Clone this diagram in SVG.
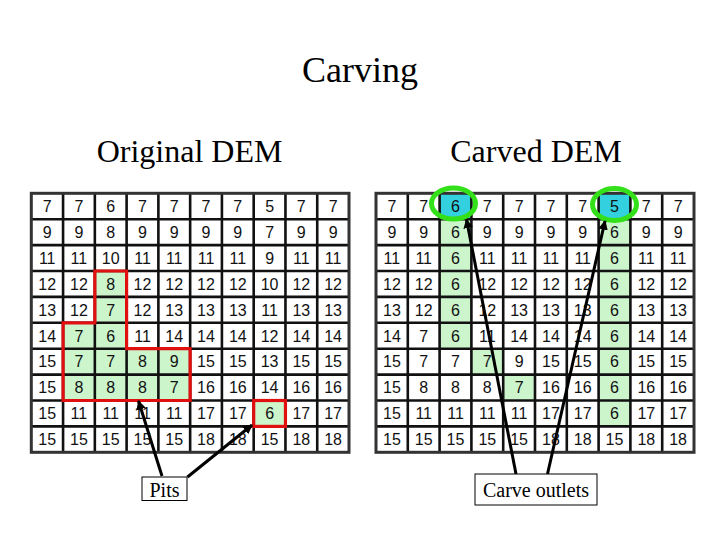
<svg xmlns="http://www.w3.org/2000/svg" width="720" height="540" viewBox="0 0 720 540">
<style>
.title{font-family:"Liberation Serif","Times New Roman",serif;fill:#000;text-anchor:middle}
.n{font-family:"Liberation Sans",Arial,sans-serif;font-size:16px;fill:#111;text-anchor:middle}
.grid{fill:none;stroke:#111;stroke-width:2.6}
.frame{fill:none;stroke:#333;stroke-width:3}
.green{fill:#ccf5cc}
.cyan{fill:#33d0e0}
.pit{fill:none;stroke:#e01010;stroke-width:3.2;stroke-linejoin:miter}
.outlet{fill:none;stroke:#33e01a;stroke-width:5}
.arrow{stroke:#000;stroke-width:3;fill:none;marker-end:url(#ah)}
.box{fill:#fff;stroke:#000;stroke-width:1}
.lbl{font-family:"Liberation Serif","Times New Roman",serif;font-size:20px;fill:#000;text-anchor:middle}
</style>
<defs>
<marker id="ah" viewBox="0 0 10 10" refX="9" refY="5" markerWidth="3.2" markerHeight="3.2" orient="auto" markerUnits="strokeWidth">
<path d="M0,0 L10,5 L0,10 z" fill="#000"/>
</marker>
</defs>
<rect width="720" height="540" fill="#fff"/>

<g id="titles">
<text class="title" x="360" y="82" font-size="36">Carving</text>
<text class="title" x="189.5" y="162" font-size="32">Original DEM</text>
<text class="title" x="536" y="162" font-size="32">Carved DEM</text>
</g>

<g id="original-dem">
<rect x="31.3" y="193.3" width="317.7" height="259" fill="#fff"/>
<rect class="green" x="94.84" y="271" width="31.77" height="51.8"/>
<rect class="green" x="63.07" y="322.8" width="63.54" height="25.9"/>
<rect class="green" x="63.07" y="348.7" width="127.08" height="51.8"/>
<rect class="green" x="253.69" y="400.5" width="31.77" height="25.9"/>
<path class="grid" d="M63.07,193.3V452.3M94.84,193.3V452.3M126.61,193.3V452.3M158.38,193.3V452.3M190.15,193.3V452.3M221.92,193.3V452.3M253.69,193.3V452.3M285.46,193.3V452.3M317.23,193.3V452.3M31.3,219.2H349M31.3,245.1H349M31.3,271H349M31.3,296.9H349M31.3,322.8H349M31.3,348.7H349M31.3,374.6H349M31.3,400.5H349M31.3,426.4H349"/>
<rect class="frame" x="31.3" y="193.3" width="317.7" height="259"/>
<g transform="translate(0,212)"><text class="n" x="47.2">7</text><text class="n" x="78.9">7</text><text class="n" x="110.7">6</text><text class="n" x="142.5">7</text><text class="n" x="174.2">7</text><text class="n" x="206">7</text><text class="n" x="237.8">7</text><text class="n" x="269.6">5</text><text class="n" x="301.3">7</text><text class="n" x="333.1">7</text></g>
<g transform="translate(0,237.9)"><text class="n" x="47.2">9</text><text class="n" x="78.9">9</text><text class="n" x="110.7">8</text><text class="n" x="142.5">9</text><text class="n" x="174.2">9</text><text class="n" x="206">9</text><text class="n" x="237.8">9</text><text class="n" x="269.6">7</text><text class="n" x="301.3">9</text><text class="n" x="333.1">9</text></g>
<g transform="translate(0,263.8)"><text class="n" x="47.2">11</text><text class="n" x="78.9">11</text><text class="n" x="110.7">10</text><text class="n" x="142.5">11</text><text class="n" x="174.2">11</text><text class="n" x="206">11</text><text class="n" x="237.8">11</text><text class="n" x="269.6">9</text><text class="n" x="301.3">11</text><text class="n" x="333.1">11</text></g>
<g transform="translate(0,289.7)"><text class="n" x="47.2">12</text><text class="n" x="78.9">12</text><text class="n" x="110.7">8</text><text class="n" x="142.5">12</text><text class="n" x="174.2">12</text><text class="n" x="206">12</text><text class="n" x="237.8">12</text><text class="n" x="269.6">10</text><text class="n" x="301.3">12</text><text class="n" x="333.1">12</text></g>
<g transform="translate(0,315.6)"><text class="n" x="47.2">13</text><text class="n" x="78.9">12</text><text class="n" x="110.7">7</text><text class="n" x="142.5">12</text><text class="n" x="174.2">13</text><text class="n" x="206">13</text><text class="n" x="237.8">13</text><text class="n" x="269.6">11</text><text class="n" x="301.3">13</text><text class="n" x="333.1">13</text></g>
<g transform="translate(0,341.5)"><text class="n" x="47.2">14</text><text class="n" x="78.9">7</text><text class="n" x="110.7">6</text><text class="n" x="142.5">11</text><text class="n" x="174.2">14</text><text class="n" x="206">14</text><text class="n" x="237.8">14</text><text class="n" x="269.6">12</text><text class="n" x="301.3">14</text><text class="n" x="333.1">14</text></g>
<g transform="translate(0,367.4)"><text class="n" x="47.2">15</text><text class="n" x="78.9">7</text><text class="n" x="110.7">7</text><text class="n" x="142.5">8</text><text class="n" x="174.2">9</text><text class="n" x="206">15</text><text class="n" x="237.8">15</text><text class="n" x="269.6">13</text><text class="n" x="301.3">15</text><text class="n" x="333.1">15</text></g>
<g transform="translate(0,393.3)"><text class="n" x="47.2">15</text><text class="n" x="78.9">8</text><text class="n" x="110.7">8</text><text class="n" x="142.5">8</text><text class="n" x="174.2">7</text><text class="n" x="206">16</text><text class="n" x="237.8">16</text><text class="n" x="269.6">14</text><text class="n" x="301.3">16</text><text class="n" x="333.1">16</text></g>
<g transform="translate(0,419.2)"><text class="n" x="47.2">15</text><text class="n" x="78.9">11</text><text class="n" x="110.7">11</text><text class="n" x="142.5">11</text><text class="n" x="174.2">11</text><text class="n" x="206">17</text><text class="n" x="237.8">17</text><text class="n" x="269.6">6</text><text class="n" x="301.3">17</text><text class="n" x="333.1">17</text></g>
<g transform="translate(0,445.1)"><text class="n" x="47.2">15</text><text class="n" x="78.9">15</text><text class="n" x="110.7">15</text><text class="n" x="142.5">15</text><text class="n" x="174.2">15</text><text class="n" x="206">18</text><text class="n" x="237.8">18</text><text class="n" x="269.6">15</text><text class="n" x="301.3">18</text><text class="n" x="333.1">18</text></g>
<path class="pit" d="M94.84,271H126.61V348.7H190.15V400.5H63.07V322.8H94.84Z"/>
<rect class="pit" x="253.69" y="400.5" width="31.77" height="25.9"/>
</g>

<g id="carved-dem">
<rect x="376" y="193.3" width="318" height="259" fill="#fff"/>
<rect class="cyan" x="439.6" y="193.3" width="31.8" height="25.9"/>
<rect class="cyan" x="598.6" y="193.3" width="31.8" height="25.9"/>
<rect class="green" x="439.6" y="219.2" width="31.8" height="129.5"/>
<rect class="green" x="471.4" y="348.7" width="31.8" height="25.9"/>
<rect class="green" x="503.2" y="374.6" width="31.8" height="25.9"/>
<rect class="green" x="598.6" y="219.2" width="31.8" height="207.2"/>
<path class="grid" d="M407.8,193.3V452.3M439.6,193.3V452.3M471.4,193.3V452.3M503.2,193.3V452.3M535,193.3V452.3M566.8,193.3V452.3M598.6,193.3V452.3M630.4,193.3V452.3M662.2,193.3V452.3M376,219.2H694M376,245.1H694M376,271H694M376,296.9H694M376,322.8H694M376,348.7H694M376,374.6H694M376,400.5H694M376,426.4H694"/>
<rect class="frame" x="376" y="193.3" width="318" height="259"/>
<g transform="translate(0,212)"><text class="n" x="391.9">7</text><text class="n" x="423.7">7</text><text class="n" x="455.5">6</text><text class="n" x="487.3">7</text><text class="n" x="519.1">7</text><text class="n" x="550.9">7</text><text class="n" x="582.7">7</text><text class="n" x="614.5">5</text><text class="n" x="646.3">7</text><text class="n" x="678.1">7</text></g>
<g transform="translate(0,237.9)"><text class="n" x="391.9">9</text><text class="n" x="423.7">9</text><text class="n" x="455.5">6</text><text class="n" x="487.3">9</text><text class="n" x="519.1">9</text><text class="n" x="550.9">9</text><text class="n" x="582.7">9</text><text class="n" x="614.5">6</text><text class="n" x="646.3">9</text><text class="n" x="678.1">9</text></g>
<g transform="translate(0,263.8)"><text class="n" x="391.9">11</text><text class="n" x="423.7">11</text><text class="n" x="455.5">6</text><text class="n" x="487.3">11</text><text class="n" x="519.1">11</text><text class="n" x="550.9">11</text><text class="n" x="582.7">11</text><text class="n" x="614.5">6</text><text class="n" x="646.3">11</text><text class="n" x="678.1">11</text></g>
<g transform="translate(0,289.7)"><text class="n" x="391.9">12</text><text class="n" x="423.7">12</text><text class="n" x="455.5">6</text><text class="n" x="487.3">12</text><text class="n" x="519.1">12</text><text class="n" x="550.9">12</text><text class="n" x="582.7">12</text><text class="n" x="614.5">6</text><text class="n" x="646.3">12</text><text class="n" x="678.1">12</text></g>
<g transform="translate(0,315.6)"><text class="n" x="391.9">13</text><text class="n" x="423.7">12</text><text class="n" x="455.5">6</text><text class="n" x="487.3">12</text><text class="n" x="519.1">13</text><text class="n" x="550.9">13</text><text class="n" x="582.7">13</text><text class="n" x="614.5">6</text><text class="n" x="646.3">13</text><text class="n" x="678.1">13</text></g>
<g transform="translate(0,341.5)"><text class="n" x="391.9">14</text><text class="n" x="423.7">7</text><text class="n" x="455.5">6</text><text class="n" x="487.3">11</text><text class="n" x="519.1">14</text><text class="n" x="550.9">14</text><text class="n" x="582.7">14</text><text class="n" x="614.5">6</text><text class="n" x="646.3">14</text><text class="n" x="678.1">14</text></g>
<g transform="translate(0,367.4)"><text class="n" x="391.9">15</text><text class="n" x="423.7">7</text><text class="n" x="455.5">7</text><text class="n" x="487.3">7</text><text class="n" x="519.1">9</text><text class="n" x="550.9">15</text><text class="n" x="582.7">15</text><text class="n" x="614.5">6</text><text class="n" x="646.3">15</text><text class="n" x="678.1">15</text></g>
<g transform="translate(0,393.3)"><text class="n" x="391.9">15</text><text class="n" x="423.7">8</text><text class="n" x="455.5">8</text><text class="n" x="487.3">8</text><text class="n" x="519.1">7</text><text class="n" x="550.9">16</text><text class="n" x="582.7">16</text><text class="n" x="614.5">6</text><text class="n" x="646.3">16</text><text class="n" x="678.1">16</text></g>
<g transform="translate(0,419.2)"><text class="n" x="391.9">15</text><text class="n" x="423.7">11</text><text class="n" x="455.5">11</text><text class="n" x="487.3">11</text><text class="n" x="519.1">11</text><text class="n" x="550.9">17</text><text class="n" x="582.7">17</text><text class="n" x="614.5">6</text><text class="n" x="646.3">17</text><text class="n" x="678.1">17</text></g>
<g transform="translate(0,445.1)"><text class="n" x="391.9">15</text><text class="n" x="423.7">15</text><text class="n" x="455.5">15</text><text class="n" x="487.3">15</text><text class="n" x="519.1">15</text><text class="n" x="550.9">18</text><text class="n" x="582.7">18</text><text class="n" x="614.5">15</text><text class="n" x="646.3">18</text><text class="n" x="678.1">18</text></g>
<ellipse class="outlet" cx="453.5" cy="203.5" rx="22" ry="15.5"/>
<ellipse class="outlet" cx="614.5" cy="204.5" rx="22" ry="16"/>
</g>

<g id="connectors">
<line class="arrow" x1="162" y1="476" x2="138.5" y2="401"/>
<line class="arrow" x1="187.5" y1="477" x2="252" y2="425"/>
<line class="arrow" x1="516" y1="474" x2="466.5" y2="219.5"/>
<line class="arrow" x1="547.5" y1="474" x2="605" y2="221"/>
</g>

<g id="pits-label">
<rect class="box" x="142" y="477" width="45" height="23.5"/>
<text class="lbl" x="164.5" y="496.5">Pits</text>
</g>

<g id="carve-outlets-label">
<rect class="box" x="475" y="474" width="122" height="31"/>
<text class="lbl" x="536" y="496.5">Carve outlets</text>
</g>
</svg>
